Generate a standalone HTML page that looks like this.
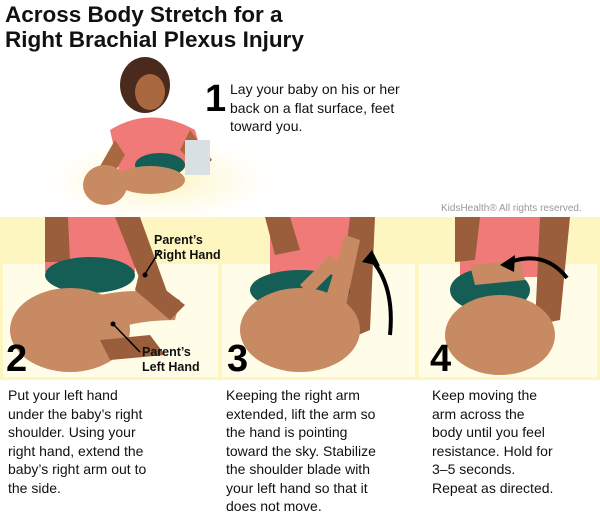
<!DOCTYPE html>
<html><head><meta charset="utf-8"><style>
body{margin:0;width:600px;height:525px;background:#fff;font-family:"Liberation Sans",sans-serif;position:relative;overflow:hidden}
.a{position:absolute}
h1{position:absolute;left:5px;top:2px;margin:0;font-size:22.5px;line-height:25px;font-weight:bold;color:#111}
.t{position:absolute;font-size:14px;line-height:18.5px;color:#111}
.n{position:absolute;font-size:38px;font-weight:bold;color:#000;line-height:38px}
.lbl{position:absolute;font-size:12.5px;font-weight:bold;line-height:15px;color:#111}
</style></head><body>
<h1>Across Body Stretch for a<br>Right Brachial Plexus Injury</h1>
<svg class="a" style="left:0;top:0" width="600" height="380">
<defs><radialGradient id="g" cx="0.5" cy="0.5" r="0.5"><stop offset="0" stop-color="#fdf3b8"/><stop offset="1" stop-color="#fffbe6" stop-opacity="0"/></radialGradient></defs>
<ellipse cx="160" cy="180" rx="120" ry="45" fill="url(#g)"/>
<!-- mother top -->
<ellipse cx="145" cy="85" rx="25" ry="28" fill="#4a2a1c"/>
<ellipse cx="150" cy="92" rx="15" ry="18" fill="#a9683f"/>
<path d="M110 130 Q150 105 195 130 L205 165 L120 175 Z" fill="#f07a78"/>
<path d="M190 130 L212 160 L200 170 L180 150Z" fill="#a9683f"/>
<rect x="185" y="140" width="25" height="35" fill="#d8e0e4"/>
<path d="M115 140 L95 175 L110 180 L125 155Z" fill="#a9683f"/>
<ellipse cx="160" cy="165" rx="25" ry="12" fill="#145e55"/>
<ellipse cx="105" cy="185" rx="22" ry="20" fill="#c88a62"/>
<ellipse cx="150" cy="180" rx="35" ry="14" fill="#c88a62"/>
<!-- band -->
<rect x="0" y="217" width="600" height="163" fill="#fdf6c0"/>
<rect x="3" y="264" width="215" height="113" fill="#fffde8"/>
<rect x="222" y="264" width="193" height="113" fill="#fffde8"/>
<rect x="419" y="264" width="178" height="113" fill="#fffde8"/>
<!-- panel 2 -->
<rect x="45" y="217" width="90" height="55" fill="#f07a78"/>
<path d="M45 217 L68 217 L70 262 L45 262Z" fill="#9b5e3c"/>
<path d="M115 217 L140 217 L170 300 L150 305Z" fill="#9b5e3c"/>
<ellipse cx="90" cy="275" rx="45" ry="18" fill="#145e55"/>
<ellipse cx="70" cy="330" rx="60" ry="42" fill="#c88a62"/>
<path d="M100 295 Q150 285 180 300 L175 320 Q140 320 110 330Z" fill="#c88a62"/>
<path d="M140 270 L185 305 L170 320 L135 290Z" fill="#9b5e3c"/>
<path d="M100 340 L150 335 L165 355 L110 360Z" fill="#9b5e3c"/>
<line x1="145" y1="274" x2="160" y2="250" stroke="#000" stroke-width="1.5"/><circle cx="145" cy="275" r="2.5" fill="#000"/>
<line x1="114" y1="325" x2="140" y2="352" stroke="#000" stroke-width="1.5"/><circle cx="113" cy="324" r="2.5" fill="#000"/>
<!-- panel 3 -->
<rect x="270" y="217" width="100" height="60" fill="#f07a78"/>
<path d="M265 217 L290 217 L300 250 L275 255Z" fill="#9b5e3c"/>
<path d="M350 217 L375 217 L370 330 L335 345Z" fill="#9b5e3c"/>
<ellipse cx="300" cy="290" rx="50" ry="20" fill="#145e55"/>
<ellipse cx="300" cy="330" rx="60" ry="42" fill="#c88a62"/>
<path d="M325 300 L345 235 L360 240 L345 310Z" fill="#c88a62"/>
<path d="M300 285 L330 255 L340 265 L310 295Z" fill="#c88a62"/>
<path d="M370 258 Q395 285 390 335" fill="none" stroke="#000" stroke-width="4"/>
<path d="M362 262 L372 250 L380 266Z" fill="#000"/>
<!-- panel 4 -->
<rect x="460" y="217" width="100" height="60" fill="#f07a78"/>
<path d="M455 217 L480 217 L475 260 L455 262Z" fill="#9b5e3c"/>
<path d="M540 217 L570 217 L560 320 L535 325Z" fill="#9b5e3c"/>
<ellipse cx="490" cy="290" rx="40" ry="22" fill="#145e55"/>
<ellipse cx="500" cy="335" rx="55" ry="40" fill="#c88a62"/>
<path d="M470 265 L520 260 L525 280 L475 285Z" fill="#c88a62"/>
<path d="M510 262 Q545 250 567 278" fill="none" stroke="#000" stroke-width="4"/>
<path d="M500 265 L515 255 L514 272Z" fill="#000"/>
</svg>
<div class="n" style="left:205px;top:80px">1</div>
<div class="t" style="left:230px;top:80px">Lay your baby on his or her<br>back on a flat surface, feet<br>toward you.</div>
<div class="a" style="left:441px;top:203px;font-size:10px;color:#999">KidsHealth® All rights reserved.</div>
<div class="lbl" style="left:154px;top:233px">Parent’s<br>Right Hand</div>
<div class="lbl" style="left:142px;top:345px">Parent’s<br>Left Hand</div>
<div class="n" style="left:6px;top:340px">2</div>
<div class="n" style="left:227px;top:340px">3</div>
<div class="n" style="left:430px;top:340px">4</div>
<div class="t" style="left:8px;top:386px">Put your left hand<br>under the baby’s right<br>shoulder. Using your<br>right hand, extend the<br>baby’s right arm out to<br>the side.</div>
<div class="t" style="left:226px;top:386px">Keeping the right arm<br>extended, lift the arm so<br>the hand is pointing<br>toward the sky. Stabilize<br>the shoulder blade with<br>your left hand so that it<br>does not move.</div>
<div class="t" style="left:432px;top:386px">Keep moving the<br>arm across the<br>body until you feel<br>resistance. Hold for<br>3–5 seconds.<br>Repeat as directed.</div>
</body></html>
